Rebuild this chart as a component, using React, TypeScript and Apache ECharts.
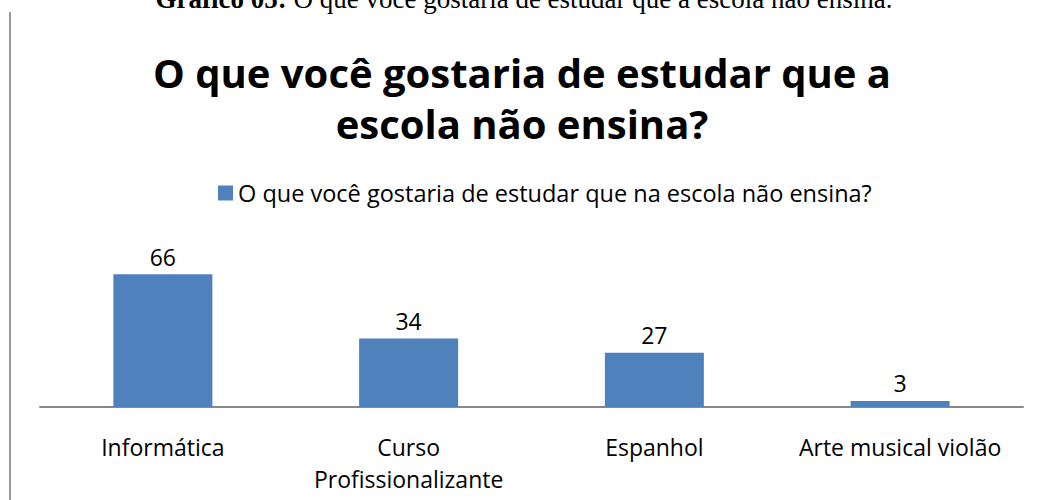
import React, { useEffect, useRef } from "react";
import * as echarts from "echarts";

const categories = ["Informática", "Curso\nProfissionalizante", "Espanhol", "Arte musical violão"];
const values = [66, 34, 27, 3];
const seriesName = "O que você gostaria de estudar que na escola não ensina?";
const titleText = "O que você gostaria de estudar que a\nescola não ensina?";
const captionBold = "Gráfico 05:";
const captionText = " O que você gostaria de estudar que a escola não ensina.";

export default function App() {
  const ref = useRef<HTMLDivElement>(null);
  useEffect(() => {
    if (!ref.current) return;
    const chart = echarts.init(ref.current, null, { renderer: "svg" });
    const font = "'Open Sans', 'Noto Sans', sans-serif";
    chart.setOption({
      animation: false,
      backgroundColor: "#ffffff",
      title: {
        text: titleText,
        left: 517,
        textAlign: "center",
        top: 42,
        textStyle: { fontSize: 40, fontWeight: "bold", color: "#000", fontFamily: font, lineHeight: 51 },
      },
      legend: {
        top: 176,
        left: 213,
        itemWidth: 15,
        itemHeight: 15,
        itemGap: 6,
        icon: "rect",
        textStyle: { fontSize: 23.5, color: "#000", fontFamily: font },
        data: [seriesName],
      },
      grid: { left: 40, right: 15, top: 246, bottom: 93 },
      xAxis: {
        type: "category",
        data: categories,
        axisLine: { lineStyle: { color: "#888", width: 2 } },
        axisTick: { show: false },
        axisLabel: { color: "#000", fontSize: 23, fontFamily: font, lineHeight: 32, margin: 24, interval: 0 },
      },
      yAxis: { type: "value", min: 0, max: 80, show: false, splitLine: { show: false } },
      series: [
        {
          name: seriesName,
          type: "bar",
          data: values,
          barWidth: 99,
          itemStyle: { color: "#4F81BD" },
          label: { show: true, position: "top", distance: 6, fontSize: 23, color: "#000", fontFamily: font },
        },
      ],
      graphic: [
        { type: "line", shape: { x1: 10, y1: 12, x2: 10, y2: 500 }, style: { stroke: "#999", lineWidth: 2 } },
        {
          type: "text",
          x: 524,
          y: 12,
          style: {
            text: `{b|${captionBold}}{n|${captionText}}`,
            align: "center",
            verticalAlign: "bottom",
            rich: {
              b: { fontFamily: "'Liberation Serif', serif", fontSize: 27, fontWeight: "bold", fill: "#000" },
              n: { fontFamily: "'Liberation Serif', serif", fontSize: 27, fill: "#000" },
            },
          },
        },
      ],
    });
    return () => chart.dispose();
  }, []);
  return <div ref={ref} style={{ position: "fixed", left: 0, top: 0, width: 1038, height: 500 }} />;
}
